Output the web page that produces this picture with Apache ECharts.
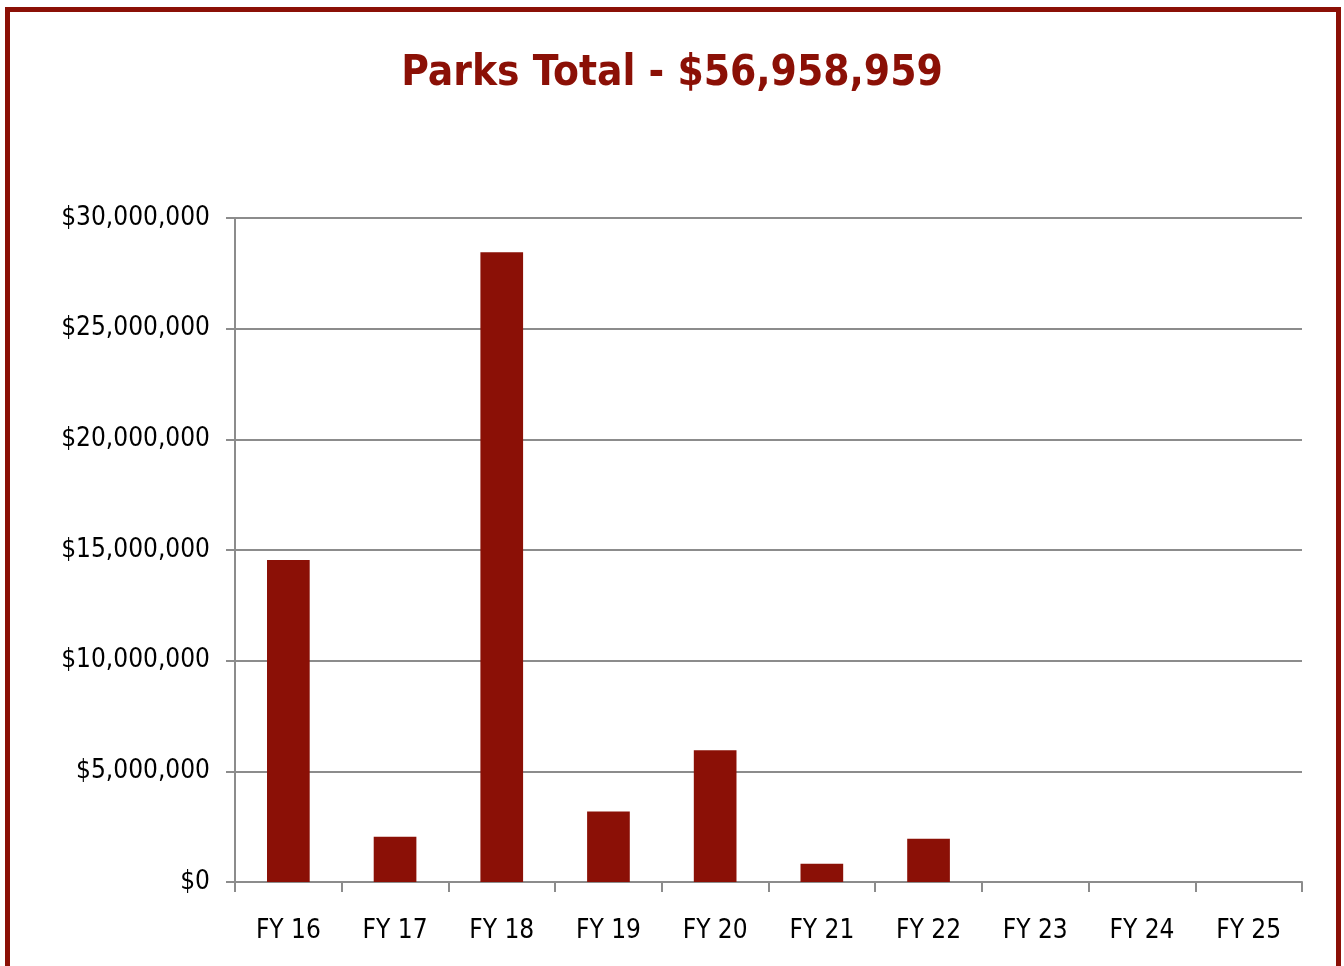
<!DOCTYPE html>
<html><head><meta charset="utf-8">
<script src="https://cdn.jsdelivr.net/npm/echarts@6/dist/echarts.min.js"></script>
<style>html,body{margin:0;padding:0;background:#fff;}#c{width:1344px;height:966px;}</style>
</head><body><div id="c"></div>
<script>
const titleText = 'Parks Total - $56,958,959';
const categories = ['FY 16','FY 17','FY 18','FY 19','FY 20','FY 21','FY 22','FY 23','FY 24','FY 25'];
const values = [14550000, 2050000, 28450000, 3180000, 5950000, 830000, 1950000, 0, 0, 0];
const yTicks = [0, 5000000, 10000000, 15000000, 20000000, 25000000, 30000000];

const FONT = '"Liberation Sans Narrow","DejaVu Sans Condensed",sans-serif';
const RED = '#8B1006';
const chart = echarts.init(document.getElementById('c'));
chart.setOption({
  animation: false,
  title: {text: titleText, left: 'center', top: 48,
    textStyle: {fontFamily: FONT, fontWeight: 'bold', fontSize: 42, color: RED}},
  graphic: [{type: 'rect', shape: {x: 7.5, y: 9.5, width: 1331, height: 1000},
    style: {fill: 'none', stroke: RED, lineWidth: 5}, silent: true}],
  grid: {left: 235, right: 42, top: 218, bottom: 84},
  xAxis: {type: 'category', data: categories,
    axisLine: {lineStyle: {color: '#8c8c8c', width: 2}},
    axisTick: {show: true, length: 10, lineStyle: {color: '#8c8c8c', width: 2}},
    axisLabel: {fontFamily: FONT, fontSize: 26, color: '#000', margin: 36}},
  yAxis: {type: 'value', min: yTicks[0], max: yTicks[yTicks.length-1], interval: 5000000,
    axisLine: {show: true, lineStyle: {color: '#8c8c8c', width: 2}},
    axisTick: {show: true, length: 9, lineStyle: {color: '#8c8c8c', width: 2}},
    splitLine: {lineStyle: {color: '#8c8c8c', width: 2}},
    axisLabel: {fontFamily: FONT, fontSize: 26, color: '#000', margin: 25,
      formatter: v => '$' + v.toLocaleString('en-US')}},
  series: [{type: 'bar', data: values, barWidth: '40%',
    itemStyle: {color: RED}}]
});
</script></body></html>
